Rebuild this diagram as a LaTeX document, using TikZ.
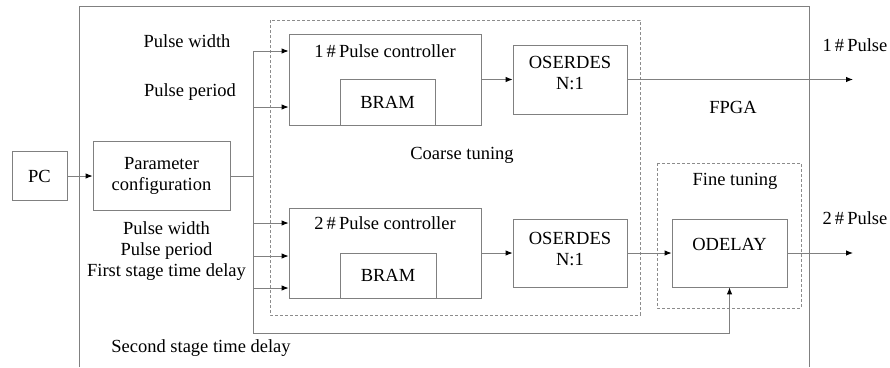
\documentclass[tikz,border=0pt]{standalone}
\usepackage{fontspec}
\setmainfont{Liberation Serif}
\usetikzlibrary{positioning,arrows.meta,calc}

\tikzset{
    box/.style={draw=black!50,line width=0.8pt,inner sep=0pt},
    link/.style={draw=black!50,line width=0.9pt},
    arr/.style={link,-{Latex[length=7pt,width=5.5pt,color=black]}},
    zone/.style={draw=black!45,densely dashed,line width=0.7pt},
    txt/.style={font=\fontsize{18.5}{21}\selectfont,inner sep=0pt,align=center}
}

\begin{document}
\begin{tikzpicture}[x=1pt,y=-1pt]
    % Canvas
    \useasboundingbox (0,0) rectangle (890,367);

    % FPGA outline (open at the bottom)
    \draw[link] (79,367) -- (79,6) -- (809,6) -- (809,367);
    \node[txt] (fpga) at (733,107) {FPGA};

    % Tuning zones
    \draw[zone] (270,20) rectangle (640,315);
    \draw[zone] (657,163) rectangle (801,308);
    \node[txt] (coarse) at (462,155) {Coarse tuning};
    \node[txt] (fine) at (735,181) {Fine tuning};

    % Blocks
    \node[box,minimum width=55,minimum height=49] (pc) at (39.5,176) {};
    \node[txt] (pctxt) at (pc) {PC};
    \node[box,minimum width=137,minimum height=69] (param) at (161.5,176) {};
    \node[txt] (paramtxt) at (param) {Parameter\\configuration};

    \node[box,minimum width=192,minimum height=91] (ctrlA) at (385,79.5) {};
    \node[txt] (ctrlAtxt) at (385,51) {1\,\#\,Pulse controller};
    \node[box,minimum width=95,minimum height=46] (bramA) at (387.5,102) {};
    \node[txt] (bramAtxt) at (bramA) {BRAM};

    \node[box,minimum width=192,minimum height=90] (ctrlB) at (385,253) {};
    \node[txt] (ctrlBtxt) at (385,223) {2\,\#\,Pulse controller};
    \node[box,minimum width=96,minimum height=45] (bramB) at (388,275.5) {};
    \node[txt] (bramBtxt) at (bramB) {BRAM};

    \node[box,minimum width=114,minimum height=69] (serA) at (570,79.5) {};
    \node[txt] (serAtxt) at (570,73) {OSERDES\\N:1};
    \node[box,minimum width=114,minimum height=68] (serB) at (570,253) {};
    \node[txt] (serBtxt) at (570,249.5) {OSERDES\\N:1};

    \node[box,minimum width=115,minimum height=68] (odelay) at (729.5,253) {};
    \node[txt] (odelaytxt) at (729.5,244) {ODELAY};

    % Parameter labels
    \node[txt] (widthA) at (187,41) {Pulse width};
    \node[txt] (periodA) at (190,92) {Pulse period};
    \node[txt] (paramsB) at (166.5,251.5) {Pulse width\\Pulse period\\First stage time delay};
    \node[txt] (second) at (201,348) {Second stage time delay};

    % Bus and connectors
    \coordinate (bus) at (253,176);
    \coordinate (busTop) at (253,51);
    \coordinate (busBot) at (253,333);
    \coordinate (outA) at (853,79.5);
    \coordinate (outB) at (853,253);

    \draw[arr] (pc) -- (param);
    \draw[link] (param.east) -- (bus);
    \draw[arr] (busTop) -- (busBot) -- (odelay.south |- busBot) -- (odelay.south);
    \foreach \y in {51,107}
        \draw[arr] (253,\y) -- (ctrlA.west |- 0,\y);
    \foreach \y in {223,256,288}
        \draw[arr] (253,\y) -- (ctrlB.west |- 0,\y);

    \draw[arr] (ctrlA) -- (serA);
    \draw[arr] (ctrlB) -- (serB);
    \draw[arr] (serB) -- (odelay);
    \draw[arr] (serA) -- (outA);
    \draw[arr] (odelay) -- (outB);

    % Outputs
    \node[txt] (pulseA) at (855,45) {1\,\#\,Pulse};
    \node[txt] (pulseB) at (855,218) {2\,\#\,Pulse};
\end{tikzpicture}
\end{document}
